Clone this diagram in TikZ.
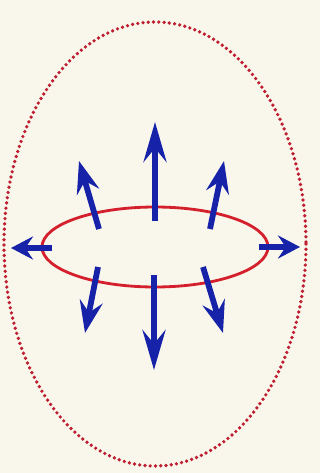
\documentclass[tikz,border=0pt]{standalone}
\usepackage{tikz}
\usetikzlibrary{arrows.meta}

\definecolor{paper}{RGB}{249,247,236}
\definecolor{ringred}{RGB}{212,32,44}
\definecolor{dotred}{RGB}{190,30,48}
\definecolor{pushblue}{RGB}{22,34,168}

\begin{document}
\begin{tikzpicture}[
  x=0.02cm, y=-0.02cm,
  shell/.style={draw=dotred, line width=2.1pt, line cap=round,
                dash pattern=on 0pt off 3.0pt},
  ring/.style={draw=ringred, line width=1.6pt},
  push/.style={-{Stealth[length=#1,width=4.6mm,inset=0.35*#1]},
               draw=pushblue, fill=pushblue, line width=3.3pt},
  push/.default=6.4mm,
]

% --- fixed bounding box (paper background) ---
\fill[paper] (0,0) rectangle (320,473);

% --- centres ---
\coordinate (outer) at (155,244);
\coordinate (inner) at (155,247);

% dotted outer shell
\draw[shell] (outer) ellipse [x radius=151, y radius=222];

% solid inner ring
\draw[ring] (inner) ellipse [x radius=113, y radius=40];

% ============================ ARROWS ================================
% vertical pair (long heads)
\draw[push=8mm] (155,221) -- (155,122);
\draw[push=8mm] (154,275) -- (154,370);

% horizontal pair (short heads)
\draw[push=4.4mm] (52,248) -- (11,248);
\draw[push=4.4mm] (259,247) -- (300,247);

% slanted, upper side
\draw[push] (99,229) -- (79,161);
\draw[push] (210,229) -- (224,161);

% slanted, lower side
\draw[push] (98,267) -- (85,333);
\draw[push] (203,267) -- (223,333);

\end{tikzpicture}
\end{document}
